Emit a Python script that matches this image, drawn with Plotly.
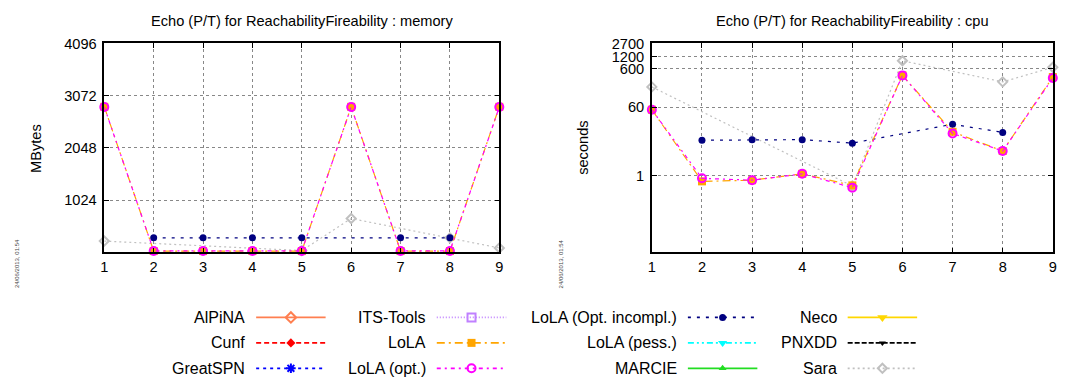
import plotly.graph_objects as go

# page body has a default 8px margin: size the figure to fit the window
OFF = 8
W, H = 1072 - OFF, 383 - OFF

# ---------------- data ----------------
models = [1, 2, 3, 4, 5, 6, 7, 8, 9]

# memory (MBytes)
lola_mem = [2853, 25, 25, 25, 25, 2853, 25, 25, 2853]
lola_opt_mem = [2850, 28, 28, 28, 28, 2850, 28, 28, 2850]
lola_incompl_mem = [None, 284, 284, 284, 284, None, 284, 284, None]
sara_mem = [221, None, None, None, 35, 663, None, 284, 86]

# cpu (seconds)
lola_cpu = [51, 0.70, 0.75, 1.1, 0.55, 398, 13.6, 4.3, 360]
lola_opt_cpu = [51, 0.84, 0.75, 1.1, 0.48, 398, 12.3, 4.3, 339]
lola_incompl_cpu = [None, 8.2, 8.5, 8.5, 6.9, None, 21.4, 13.1, None]
sara_cpu = [200, None, None, None, 0.53, 955, None, 270, 645]

mem_ticks = [1024, 2048, 3072, 4096]
cpu_ticks = [1, 60, 600, 1200, 2700]

legend_names = ["AlPiNA", "Cunf", "GreatSPN",
                "ITS-Tools", "LoLA", "LoLA (opt.)",
                "LoLA (Opt. incompl.)", "LoLA (pess.)", "MARCIE",
                "Neco", "PNXDD", "Sara"]

# ---------------- styles ----------------
STY = {
    "AlPiNA": dict(color="#ff7f50", dash="solid", symbol="diamond-open", size=8),
    "Cunf": dict(color="#ff0000", dash="5px,3px", symbol="diamond", size=7),
    "GreatSPN": dict(color="#0000ff", dash="3px,4px", symbol="asterisk-open", size=8),
    "ITS-Tools": dict(color="#c080ff", dash="1px,2px", symbol="square-open", size=8),
    "LoLA": dict(color="#ffa500", dash="8px,4px,2px,4px", symbol="square", size=8),
    "LoLA (opt.)": dict(color="#ff00ff", dash="4px,4px,2px,4px", symbol="circle-open", size=8),
    "LoLA (Opt. incompl.)": dict(color="#000080", dash="3px,6px", symbol="circle", size=7),
    "LoLA (pess.)": dict(color="#00ffff", dash="6px,3px,2px,3px,2px,3px", symbol="triangle-down", size=8),
    "MARCIE": dict(color="#22dd22", dash="solid", symbol="triangle-up", size=7),
    "Neco": dict(color="#ffd700", dash="solid", symbol="triangle-down", size=9),
    "PNXDD": dict(color="#000000", dash="5px,2px", symbol="triangle-down", size=6),
    "Sara": dict(color="#c0c0c0", dash="2px,3px", symbol="diamond-open", size=7),
}

FONT = "Liberation Sans, Arial, Helvetica, sans-serif"

fig = go.Figure()


def add_series(name, xs, ys, xa, ya, lw=1.2):
    s = STY[name]
    fig.add_trace(go.Scatter(
        x=xs, y=ys, mode="lines+markers", name=name, xaxis=xa, yaxis=ya,
        connectgaps=True, showlegend=False, cliponaxis=False,
        line=dict(color=s["color"], dash=s["dash"], width=lw),
        marker=dict(symbol=s["symbol"], size=s["size"], color=s["color"],
                    line=dict(color=s["color"], width=2 if "open" in s["symbol"] else 0)),
    ))


# memory plot (x, y)
add_series("Sara", models, sara_mem, "x", "y")
add_series("LoLA (Opt. incompl.)", models, lola_incompl_mem, "x", "y")
add_series("LoLA", models, lola_mem, "x", "y")
add_series("LoLA (opt.)", models, lola_opt_mem, "x", "y")

# cpu plot (x2, y2)
add_series("Sara", models, sara_cpu, "x2", "y2")
add_series("LoLA (Opt. incompl.)", models, lola_incompl_cpu, "x2", "y2")
add_series("LoLA", models, lola_cpu, "x2", "y2")
add_series("LoLA (opt.)", models, lola_opt_cpu, "x2", "y2")

# ---------------- custom gnuplot-style legend ----------------
col_text_right = [245, 427, 680, 841]
row_y = [316, 342, 368]
annotations = []
for i, name in enumerate(legend_names):
    c, r = divmod(i, 3)
    xr, yy = col_text_right[c], row_y[r]
    s = STY[name]
    x0, x1, xm = xr + 9, xr + 79, xr + 44
    fig.add_trace(go.Scatter(
        x=[x0, x1], y=[yy, yy], mode="lines", xaxis="x3", yaxis="y3",
        showlegend=False, hoverinfo="skip",
        line=dict(color=s["color"], dash=s["dash"], width=1.8)))
    fig.add_trace(go.Scatter(
        x=[xm], y=[yy], mode="markers", xaxis="x3", yaxis="y3",
        showlegend=False, hoverinfo="skip",
        marker=dict(symbol=s["symbol"], size=s["size"], color=s["color"],
                    line=dict(color=s["color"], width=2 if "open" in s["symbol"] else 0))))
    annotations.append(dict(
        x=xr, y=yy, xref="x3", yref="y3", text=name, showarrow=False,
        xanchor="right", yanchor="middle",
        font=dict(family=FONT, size=16, color="#000")))


def px(x):
    return (x - OFF) / W


def py(y):
    return 1 - (y - OFF) / H


# titles and axis labels
for cx, txt in [(300, "Echo (P/T) for ReachabilityFireability : memory"),
                (854.7, "Echo (P/T) for ReachabilityFireability : cpu")]:
    annotations.append(dict(x=px(cx), y=py(13), xref="paper", yref="paper", text=txt,
                            showarrow=False, xanchor="center", yanchor="middle",
                            font=dict(family=FONT, size=14.6, color="#000")))
for cx, txt in [(32, "MBytes"), (583, "seconds")]:
    annotations.append(dict(x=px(cx), y=py(143), xref="paper", yref="paper", text=txt,
                            showarrow=False, textangle=-90, xanchor="center", yanchor="middle",
                            font=dict(family=FONT, size=14.6, color="#000")))
for cx in [12.5, 561]:
    annotations.append(dict(x=px(cx), y=py(261), xref="paper", yref="paper",
                            text="24/06/2013, 01:54", showarrow=False, textangle=-90,
                            xanchor="center", yanchor="middle",
                            font=dict(family=FONT, size=6, color="#444")))

ax_common = dict(showline=True, linecolor="#000", linewidth=1.5, mirror="ticks",
                 ticks="inside", ticklen=5, tickcolor="#000", zeroline=False,
                 showgrid=True, gridcolor="#888", griddash="dot", gridwidth=1,
                 tickfont=dict(family=FONT, size=14.6, color="#000"), fixedrange=True)

ytop, ybot = py(36), py(249.5)

fig.update_layout(
    width=W, height=H, margin=dict(l=0, r=0, t=0, b=0),
    paper_bgcolor="white", plot_bgcolor="rgba(0,0,0,0)",
    showlegend=False,
    xaxis=dict(domain=[px(101), px(499)], range=[1, 9], tickvals=models,
               anchor="y", **ax_common),
    yaxis=dict(domain=[ybot, ytop], range=[0, 4096], tickvals=mem_ticks,
               ticktext=[str(t) for t in mem_ticks], anchor="x",
               ticklabelstandoff=3, **ax_common),
    xaxis2=dict(domain=[px(652.7), px(1056.7)], range=[1, 9], tickvals=models,
                anchor="y2", **ax_common),
    yaxis2=dict(domain=[ybot, ytop], type="log", range=[-2, 3.4314],
                tickvals=cpu_ticks, ticktext=[str(t) for t in cpu_ticks],
                anchor="x2", ticklabelstandoff=3, **ax_common),
    xaxis3=dict(domain=[0, 1], range=[OFF, OFF + W], visible=False, fixedrange=True, anchor="y3"),
    yaxis3=dict(domain=[0, py(295)], range=[OFF + H, 295], visible=False, fixedrange=True, anchor="x3"),
    annotations=annotations,
)

fig.write_html("out.html")
